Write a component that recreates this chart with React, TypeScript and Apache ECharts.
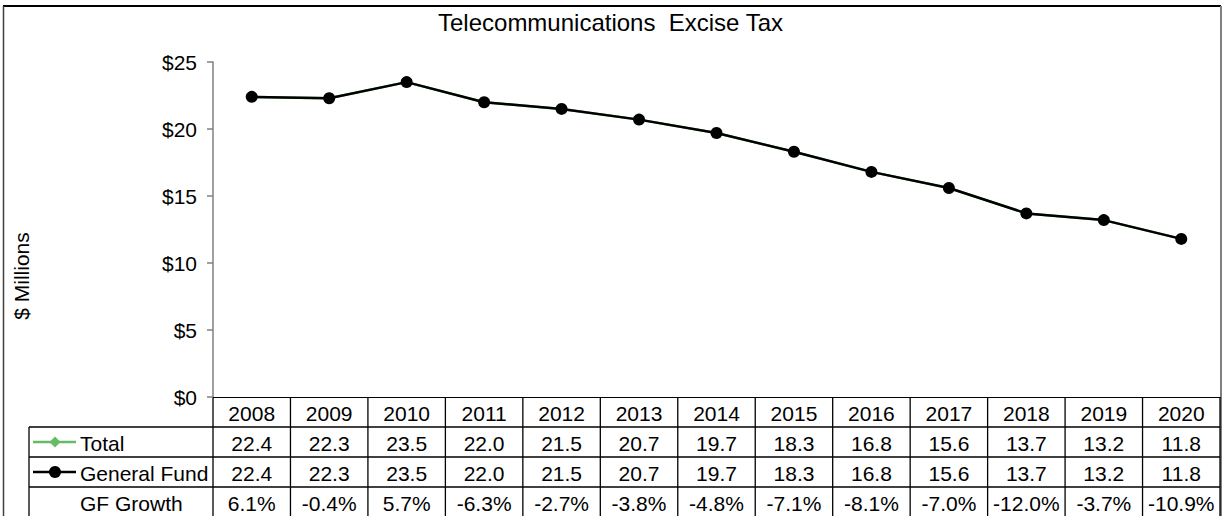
import React, { useEffect, useRef } from "react";
import * as echarts from "echarts";

const years = ["2008", "2009", "2010", "2011", "2012", "2013", "2014", "2015", "2016", "2017", "2018", "2019", "2020"];
const totalValues = [22.4, 22.3, 23.5, 22.0, 21.5, 20.7, 19.7, 18.3, 16.8, 15.6, 13.7, 13.2, 11.8];
const generalFundValues = [22.4, 22.3, 23.5, 22.0, 21.5, 20.7, 19.7, 18.3, 16.8, 15.6, 13.7, 13.2, 11.8];
const gfGrowthValues = [6.1, -0.4, 5.7, -6.3, -2.7, -3.8, -4.8, -7.1, -8.1, -7.0, -12.0, -3.7, -10.9];
const rowLabels = ["Total", "General Fund", "GF Growth"];

const FONT = "'Liberation Sans', Arial, sans-serif";
const TABLE_FS = 21;

export default function App() {
  const ref = useRef<HTMLDivElement>(null);
  useEffect(() => {
    if (!ref.current) return;
    const chart = echarts.init(ref.current, null, { renderer: "svg" });
    const option: any = {
      animation: false,
      backgroundColor: "#fff",
      title: {
        text: "Telecommunications  Excise Tax",
        left: 433,
        top: 5,
        textStyle: { fontFamily: FONT, fontSize: 24, fontWeight: "normal", color: "#000" },
      },
      grid: { left: 213, right: 5, top: 62, bottom: 119 },
      xAxis: {
        type: "category",
        data: years,
        boundaryGap: true,
        axisLine: { show: true, lineStyle: { color: "#000", width: 1 } },
        axisTick: { show: false },
        axisLabel: { show: false },
      },
      yAxis: {
        type: "value",
        min: 0,
        max: 25,
        interval: 5,
        axisLine: { show: true, lineStyle: { color: "#808080", width: 1.5 } },
        axisTick: { show: true, length: 6, lineStyle: { color: "#808080", width: 1.5 } },
        splitLine: { show: false },
        axisLabel: {
          formatter: (v: number) => "$" + v,
          fontSize: TABLE_FS,
          fontFamily: FONT,
          color: "#000",
          margin: 16,
        },
      },
      series: [
        {
          name: "Total",
          type: "line",
          data: totalValues,
          symbol: "diamond",
          symbolSize: 10,
          lineStyle: { color: "#66bb66", width: 2.5 },
          itemStyle: { color: "#66bb66" },
          z: 2,
        },
        {
          name: "General Fund",
          type: "line",
          data: generalFundValues,
          symbol: "circle",
          symbolSize: 12,
          lineStyle: { color: "#000", width: 2.5 },
          itemStyle: { color: "#000" },
          z: 3,
        },
      ],
    };
    chart.setOption(option);

    const c0 = chart.convertToPixel({ xAxisIndex: 0 }, 0) as number;
    const c1 = chart.convertToPixel({ xAxisIndex: 0 }, 1) as number;
    const colW = c1 - c0;
    const left = c0 - colW / 2;
    const right = left + colW * years.length;
    const yTop = chart.convertToPixel({ yAxisIndex: 0 }, 0) as number;
    const rowH = [30, 30, 30, 30];
    const rowY: number[] = [yTop];
    rowH.forEach((h, i) => rowY.push(rowY[i] + h));
    const tableLeft = 29;
    const bottom = 530;
    const lineStyle = { stroke: "#000", lineWidth: 1.3 };
    const g: any[] = [];

    // frame
    g.push({ type: "line", shape: { x1: 3, y1: 6, x2: 1221, y2: 6 }, style: { stroke: "#000", lineWidth: 2 } });
    g.push({ type: "line", shape: { x1: 3.5, y1: 6, x2: 3.5, y2: 520 }, style: { stroke: "#404040", lineWidth: 1.5 } });
    g.push({ type: "line", shape: { x1: 1221, y1: 6, x2: 1221, y2: 520 }, style: { stroke: "#808080", lineWidth: 2 } });

    // table lines
    for (let r = 1; r < rowY.length - 1; r++) {
      g.push({ type: "line", shape: { x1: tableLeft, y1: rowY[r], x2: right, y2: rowY[r] }, style: lineStyle });
    }
    for (let i = 0; i <= years.length; i++) {
      const x = left + colW * i;
      g.push({ type: "line", shape: { x1: x, y1: yTop, x2: x, y2: bottom }, style: lineStyle });
    }
    g.push({ type: "line", shape: { x1: tableLeft, y1: rowY[1], x2: tableLeft, y2: bottom }, style: lineStyle });

    const cellText = (text: string, x: number, y: number, align = "center") => ({
      type: "text",
      x,
      y,
      style: { text, fill: "#000", font: `${TABLE_FS}px ${FONT}`, align, verticalAlign: "middle" },
    });

    const totalFmt = totalValues.map((v) => v.toFixed(1));
    const gfFmt = generalFundValues.map((v) => v.toFixed(1));
    const growthFmt = gfGrowthValues.map((v) => v.toFixed(1) + "%");
    const rows = [years, totalFmt, gfFmt, growthFmt];
    rows.forEach((row, r) => {
      const cy = (rowY[r] + rowY[r + 1]) / 2 + 1;
      row.forEach((t, i) => {
        g.push(cellText(t, c0 + colW * i, cy));
      });
    });

    // row labels and legend keys
    rowLabels.forEach((lab, k) => {
      const cy = (rowY[k + 1] + rowY[k + 2]) / 2 + 1;
      g.push(cellText(lab, 80, cy, "left"));
    });
    const cyT = (rowY[1] + rowY[2]) / 2;
    const cyG = (rowY[2] + rowY[3]) / 2;
    g.push({ type: "line", shape: { x1: 33, y1: cyT, x2: 76, y2: cyT }, style: { stroke: "#66bb66", lineWidth: 2.5 } });
    g.push({ type: "polygon", shape: { points: [[55, cyT - 5.5], [60.5, cyT], [55, cyT + 5.5], [49.5, cyT]] }, style: { fill: "#66bb66" } });
    g.push({ type: "line", shape: { x1: 33, y1: cyG, x2: 76, y2: cyG }, style: { stroke: "#000", lineWidth: 2.5 } });
    g.push({ type: "circle", shape: { cx: 55, cy: cyG, r: 6 }, style: { fill: "#000" } });

    // y axis title
    g.push({
      type: "text",
      x: 21,
      y: 276,
      rotation: Math.PI / 2,
      style: { text: "$ Millions", fill: "#000", font: `${TABLE_FS}px ${FONT}`, align: "center", verticalAlign: "middle" },
    });

    chart.setOption({ graphic: g });
    return () => chart.dispose();
  }, []);
  return <div ref={ref} style={{ position: "fixed", left: 0, top: 0, width: 1225, height: 516 }} />;
}
